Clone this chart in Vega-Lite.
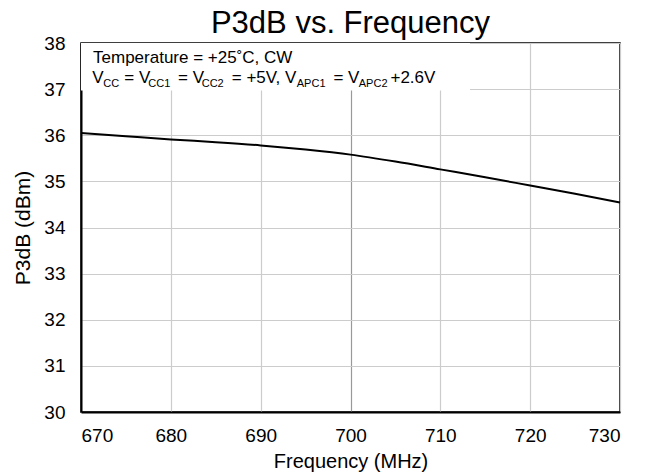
{
  "$schema": "https://vega.github.io/schema/vega-lite/v6.json",
  "autosize": "none",
  "width": 539,
  "height": 369,
  "padding": {"left": 81, "top": 43, "right": 30, "bottom": 62},
  "background": "white",
  "config": {
    "font": "Liberation Sans",
    "view": {"stroke": "#000", "strokeWidth": 1.5},
    "axis": {
      "grid": true,
      "labelFont": "Liberation Sans",
      "titleFont": "Liberation Sans",
      "labelColor": "#000",
      "titleColor": "#000",
      "labelFontSize": 19,
      "titleFontSize": 20,
      "titleFontWeight": "normal",
      "domainColor": "#000",
      "domainWidth": 2,
      "ticks": false,
      "gridColor": "#cccccc",
      "gridWidth": 1.2,
      "gridOpacity": 1
    },
    "title": {"font": "Liberation Sans", "fontSize": 31, "fontWeight": "normal", "color": "#000", "anchor": "middle", "baseline": "alphabetic", "offset": -6}
  },
  "title": "P3dB vs. Frequency",
  "datasets": {
    "curve": [
      {"freq": 670, "p3db": 36.05},
      {"freq": 675, "p3db": 35.98},
      {"freq": 680, "p3db": 35.91},
      {"freq": 685, "p3db": 35.85},
      {"freq": 690, "p3db": 35.78},
      {"freq": 695, "p3db": 35.69},
      {"freq": 700, "p3db": 35.58},
      {"freq": 705, "p3db": 35.43},
      {"freq": 710, "p3db": 35.26},
      {"freq": 715, "p3db": 35.09},
      {"freq": 720, "p3db": 34.91},
      {"freq": 725, "p3db": 34.73},
      {"freq": 730, "p3db": 34.54}
    ],
    "box": [{"x1": 670, "x2": 713.3, "y1": 38, "y2": 36.97}],
    "mainText": [
      {"x": 671.34, "y": 37.556, "t": "Temperature = +25˚C, CW"},
      {"x": 671.26, "y": 37.126, "t": "V"},
      {"x": 674.82, "y": 37.126, "t": "= V"},
      {"x": 680.80, "y": 37.126, "t": "= V"},
      {"x": 686.78, "y": 37.126, "t": "= +5V, V"},
      {"x": 698.10, "y": 37.126, "t": "= V"},
      {"x": 704.45, "y": 37.126, "t": "+2.6V"}
    ],
    "subText": [
      {"x": 672.48, "y": 37.053, "t": "CC"},
      {"x": 677.49, "y": 37.053, "t": "CC1"},
      {"x": 683.44, "y": 37.053, "t": "CC2"},
      {"x": 694.02, "y": 37.053, "t": "APC1"},
      {"x": 700.92, "y": 37.053, "t": "APC2"}
    ]
  },
  "layer": [
    {
      "data": {"name": "curve"},
      "mark": {"type": "line", "color": "#000", "strokeWidth": 2, "interpolate": "monotone"},
      "encoding": {
        "x": {
          "field": "freq", "type": "quantitative",
          "scale": {"domain": [670, 730], "nice": false},
          "axis": {
            "grid": true,
            "title": "Frequency (MHz)",
            "values": [670, 680, 690, 700, 710, 720, 730],
            "labelPadding": 14,
            "titlePadding": 6,
            "gridColor": {"condition": {"test": "datum.value == 700", "value": "#999999"}, "value": "#cccccc"}
          }
        },
        "y": {
          "field": "p3db", "type": "quantitative",
          "scale": {"domain": [30, 38], "nice": false},
          "axis": {
            "grid": true,
            "title": "P3dB (dBm)",
            "titleFontSize": 21,
            "values": [30, 31, 32, 33, 34, 35, 36, 37, 38],
            "labelPadding": 16,
            "titlePadding": 10
          }
        }
      }
    },
    {
      "data": {"name": "box"},
      "mark": {"type": "rect", "fill": "white"},
      "encoding": {
        "x": {"field": "x1", "type": "quantitative"},
        "x2": {"field": "x2"},
        "y": {"field": "y1", "type": "quantitative"},
        "y2": {"field": "y2"}
      }
    },
    {
      "data": {"name": "mainText"},
      "mark": {"type": "text", "align": "left", "baseline": "alphabetic", "fontSize": 17, "color": "#000", "font": "Liberation Sans"},
      "encoding": {
        "x": {"field": "x", "type": "quantitative"},
        "y": {"field": "y", "type": "quantitative"},
        "text": {"field": "t"}
      }
    },
    {
      "data": {"name": "subText"},
      "mark": {"type": "text", "align": "left", "baseline": "alphabetic", "fontSize": 11, "color": "#000", "font": "Liberation Sans"},
      "encoding": {
        "x": {"field": "x", "type": "quantitative"},
        "y": {"field": "y", "type": "quantitative"},
        "text": {"field": "t"}
      }
    }
  ]
}
